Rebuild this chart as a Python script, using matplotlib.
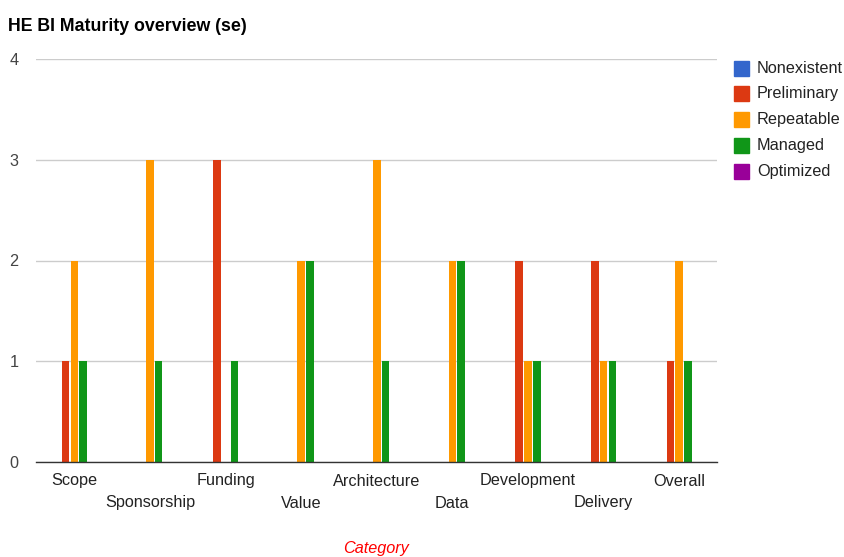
import numpy as np
import matplotlib
matplotlib.use('Agg')
import matplotlib.pyplot as plt
from matplotlib.patches import Rectangle

plt.rcParams['font.family'] = ['Liberation Sans', 'DejaVu Sans']

# maturity scores per category
categories = ['Scope', 'Sponsorship', 'Funding', 'Value', 'Architecture',
              'Data', 'Development', 'Delivery', 'Overall']
series = ['Nonexistent', 'Preliminary', 'Repeatable', 'Managed', 'Optimized']
nonexistent = [0, 0, 0, 0, 0, 0, 0, 0, 0]
preliminary = [1, 0, 3, 0, 0, 0, 2, 2, 1]
repeatable = [2, 3, 0, 2, 3, 2, 1, 1, 2]
managed = [1, 1, 1, 2, 1, 2, 1, 1, 1]
optimized = [0, 0, 0, 0, 0, 0, 0, 0, 0]
yticks = [0, 1, 2, 3, 4]

values = [nonexistent, preliminary, repeatable, managed, optimized]
colors = ['#3366cc', '#dc3912', '#ff9900', '#109618', '#990099']

W, H = 845, 557
fs = 11.7
fig = plt.figure(figsize=(W / 100, H / 100), dpi=100)
ax = fig.add_axes([36.5 / W, (H - 462) / H, (717 - 36.5) / W, (462 - 59) / H])

x = np.arange(len(categories))
bw = 0.1
step = 0.116
for i, (name, vals, c) in enumerate(zip(series, values, colors)):
    ax.bar(x + (i - 2) * step, vals, width=bw, color=c, label=name, zorder=3)

ax.set_xlim(-0.5, len(categories) - 0.5)
ax.set_ylim(0, 4)
ax.set_yticks(yticks)
ax.set_yticklabels([str(t) for t in yticks])
ax.yaxis.grid(True, color='#cccccc', linewidth=1, zorder=0)
ax.tick_params(axis='y', length=0, pad=13, labelsize=fs, labelcolor='#444444')
ax.set_xticks([])
for side in ['top', 'right', 'left']:
    ax.spines[side].set_visible(False)
ax.spines['bottom'].set_color('#333333')
ax.spines['bottom'].set_linewidth(1)
ax.spines['bottom'].set_zorder(4)

# staggered category labels
for i, name in enumerate(categories):
    ypix = 481 if i % 2 == 0 else 503
    fig.text((36.5 + (i + 0.5) * (680.5 / 9)) / W, 1 - ypix / H, name,
             ha='center', va='center', fontsize=fs, color='#222222')

fig.text(376 / W, 1 - 549 / H, 'Category', ha='center', va='center',
         fontsize=fs, color='#ff0000', style='italic')

fig.text(8 / W, 1 - 26.5 / H, 'HE BI Maturity overview (se)', ha='left',
         va='center', fontsize=12.8, fontweight='bold', color='#000000')

# legend
for i, (name, c) in enumerate(zip(series, colors)):
    yc = 68 + i * 25.8
    fig.patches.append(Rectangle((734.5 / W, 1 - (yc + 7.5) / H), 15 / W, 15 / H,
                                 transform=fig.transFigure, color=c))
    fig.text(757 / W, 1 - yc / H, name, ha='left', va='center',
             fontsize=fs, color='#222222')

fig.savefig('out.png', dpi=100)
